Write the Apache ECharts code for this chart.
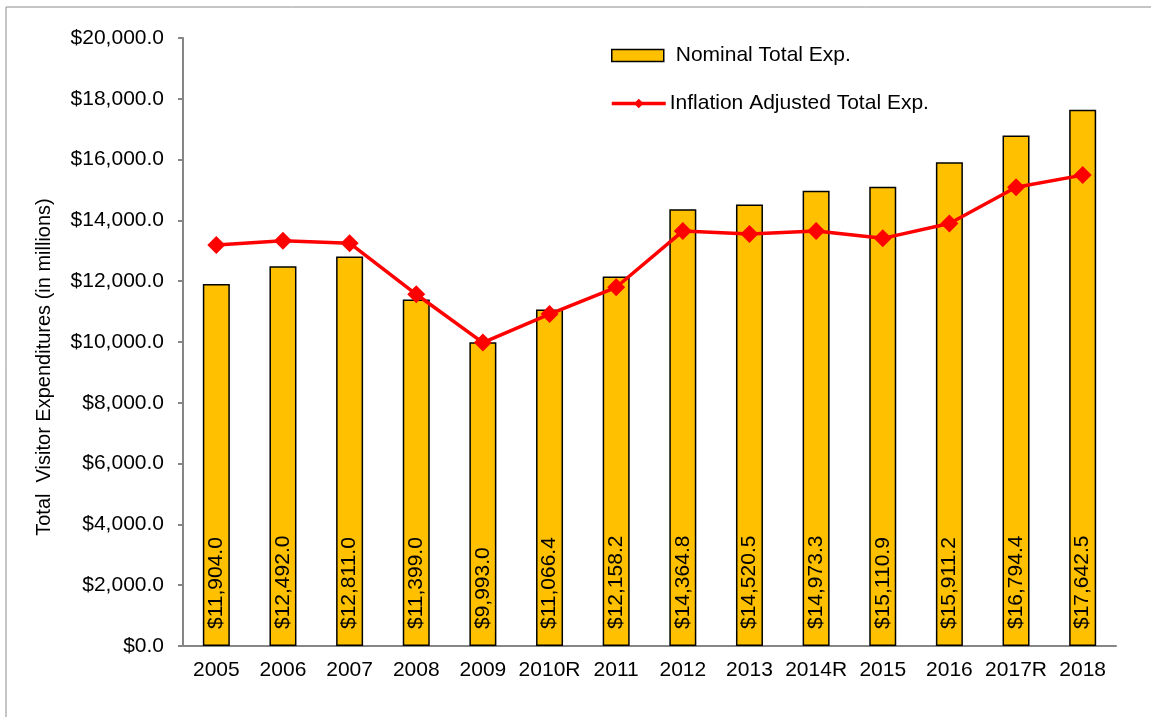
<!DOCTYPE html>
<html lang="en">
<head>
<meta charset="utf-8">
<title>Total Visitor Expenditures</title>
<script src="https://cdn.jsdelivr.net/npm/echarts@6/dist/echarts.min.js"></script>
<style>
	html, body { margin: 0; padding: 0; background: #fff; }
	#main { width: 1151px; height: 717px; }
</style>
</head>
<body>
<div id="main"></div>
<script>
	var years = ['2005', '2006', '2007', '2008', '2009', '2010R', '2011', '2012', '2013', '2014R', '2015', '2016', '2017R', '2018'];
	var nominal = [11904.0, 12492.0, 12811.0, 11399.0, 9993.0, 11066.4, 12158.2, 14364.8, 14520.5, 14973.3, 15110.9, 15911.2, 16794.4, 17642.5];
	// no labels in the source
	var adjusted = [13190, 13330, 13250, 11570, 9980, 10920, 11800, 13650, 13550, 13650, 13410, 13900, 15090, 15490];
	var seriesNames = ['Nominal Total Exp.', 'Inflation Adjusted Total Exp.'];
	var yTitle = 'Total  Visitor Expenditures (in millions)';

	function money(v) {
		return '$' + Number(v).toLocaleString('en-US', { minimumFractionDigits: 1, maximumFractionDigits: 1 });
	}

	var font = 'Liberation Sans, Arial, sans-serif';
	var axisGray = '#868686';

	var option = {
		animation: false,
		textStyle: { fontFamily: font, color: '#000' },
		grid: { left: 183, top: 38, right: 35, bottom: 71 },
		graphic: [
			{
				type: 'rect',
				shape: { x: 6, y: 7, width: 1200, height: 800 },
				style: { fill: 'none', stroke: '#8c8c8c', lineWidth: 1 },
				silent: true
			},
			{
				type: 'text',
				x: 44,
				y: 367,
				rotation: Math.PI / 2,
				style: {
					text: yTitle,
					font: '20px ' + font,
					fill: '#000',
					align: 'center',
					verticalAlign: 'middle'
				}
			}
		],
		legend: [
			{
				data: [{ name: seriesNames[0], icon: 'rect' }],
				left: 611,
				top: 45,
				padding: 0,
				itemWidth: 52,
				itemHeight: 12,
				itemGap: 0,
				textStyle: { fontSize: 21, fontFamily: font, color: '#000', padding: [0, 0, 0, 7] },
				itemStyle: { color: '#FFC000', borderColor: '#000', borderWidth: 1.5 }
			},
			{
				data: [seriesNames[1]],
				left: 610,
				top: 93,
				padding: 0,
				itemWidth: 54,
				itemHeight: 12,
				lineStyle: { color: '#FF0000', width: 3.5 },
				textStyle: { fontSize: 21, fontFamily: font, color: '#000', padding: [0, 0, 0, -1] }
			}
		],
		xAxis: {
			type: 'category',
			data: years,
			axisLine: { lineStyle: { color: axisGray, width: 2 } },
			axisTick: { length: 6, lineStyle: { color: axisGray, width: 2 } },
			axisLabel: { fontSize: 21, color: '#000', margin: 14, interval: 0 }
		},
		yAxis: {
			type: 'value',
			min: 0,
			max: 20000,
			interval: 2000,
			splitLine: { show: false },
			axisLine: { show: true, lineStyle: { color: axisGray, width: 2 } },
			axisTick: { show: true, length: 5, lineStyle: { color: axisGray, width: 2 } },
			axisLabel: { fontSize: 21, color: '#000', margin: 19, formatter: money }
		},
		series: [
			{
				name: seriesNames[0],
				type: 'bar',
				data: nominal,
				barWidth: 27,
				itemStyle: { color: '#FFC000', borderColor: '#000', borderWidth: 1.5 },
				label: {
					show: true,
					position: 'insideBottom',
					distance: 17,
					rotate: 90,
					align: 'left',
					verticalAlign: 'middle',
					fontSize: 21,
					color: '#000',
					formatter: function (p) { return money(p.value); }
				}
			},
			{
				name: seriesNames[1],
				type: 'line',
				data: adjusted,
				symbol: 'diamond',
				symbolSize: 18,
				z: 5,
				lineStyle: { color: '#FF0000', width: 3.5 },
				itemStyle: { color: '#FF0000' }
			}
		]
	};

	var myChart = echarts.init(document.getElementById('main'));
	myChart.setOption(option);
	window.addEventListener('resize', function () {
		myChart.resize();
	});
</script>
</body>
</html>
